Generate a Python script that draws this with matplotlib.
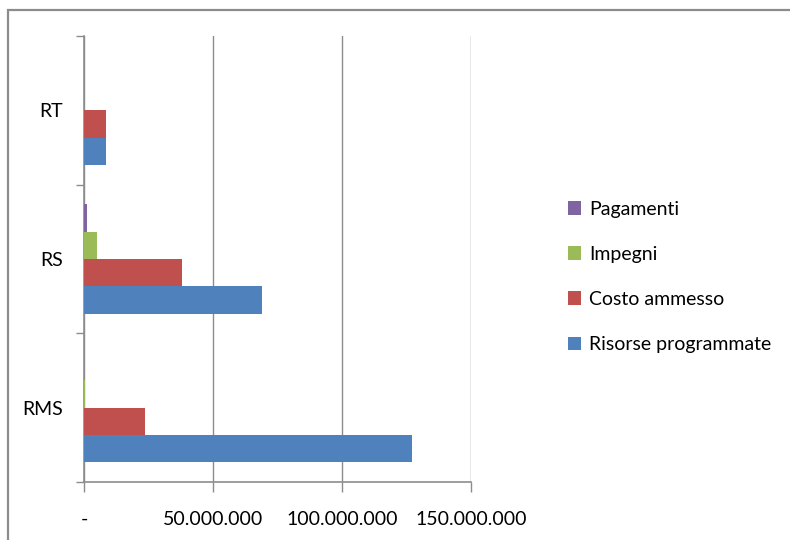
import matplotlib
matplotlib.use('Agg')
import matplotlib.pyplot as plt
import numpy as np
from matplotlib.patches import Rectangle
from matplotlib.ticker import FuncFormatter, FixedLocator

categories = ['RMS', 'RS', 'RT']
series = ['Risorse programmate', 'Costo ammesso', 'Impegni', 'Pagamenti']
colors = ['#4f81bd', '#c0504d', '#9bbb59', '#8064a2']
risorse = [127.0e6, 69.1e6, 8.4e6]
costo = [23.5e6, 37.9e6, 8.4e6]
impegni = [0.4e6, 5.2e6, 0.0]
pagamenti = [0.1e6, 1.0e6, 0.0]
values = [risorse, costo, impegni, pagamenti]

plt.rcParams['font.family'] = ['Lato', 'DejaVu Sans']

fig = plt.figure(figsize=(7.9, 5.4), dpi=100)
ax = fig.add_axes([84/790, 58/540, (471-84)/790, (482-36)/540])

# outer chart border (only top/left visible)
fig.patches.append(Rectangle((8/790, -0.1), 1.2, (530/540) + 0.1, transform=fig.transFigure,
                             fill=False, edgecolor='#8c8c8c', linewidth=1.6))

y = np.arange(len(categories))
w = 0.184
offsets = [-1.5, -0.5, 0.5, 1.5]
for vals, name, c, o in zip(values, series, colors, offsets):
    ax.barh(y + o*w, vals, height=w, color=c, label=name, zorder=3)

ax.set_xlim(0, 150e6)
ax.set_ylim(-0.5, 2.5)
ax.set_xticks([0, 50e6, 100e6, 150e6])
ax.xaxis.set_major_formatter(FuncFormatter(
    lambda v, p: '-' if v == 0 else f'{int(v):,}'.replace(',', '.')))
ax.grid(axis='x', color='#8c8c8c', linewidth=1.0, zorder=0)

ax.set_yticks(y)
ax.set_yticklabels(categories)
ax.yaxis.set_minor_locator(FixedLocator([-0.5, 0.5, 1.5, 2.5]))
ax.tick_params(axis='y', which='major', length=0, pad=15, labelsize=14)
ax.tick_params(axis='y', which='minor', length=6, color='#8c8c8c', width=1)
ax.tick_params(axis='x', which='major', length=7, color='#8c8c8c', width=1, pad=14, labelsize=14)

for s in ['top', 'right']:
    ax.spines[s].set_visible(False)
for s in ['left', 'bottom']:
    ax.spines[s].set_color('#8c8c8c')
    ax.spines[s].set_linewidth(1.2)

h, l = ax.get_legend_handles_labels()
fig.legend(h[::-1], l[::-1], loc='center left', bbox_to_anchor=(550/790, 1 - 277/540),
           frameon=False, fontsize=14, handlelength=0.7, handleheight=0.7,
           handletextpad=0.4, labelspacing=1.45)

fig.savefig('out.png', dpi=100)
